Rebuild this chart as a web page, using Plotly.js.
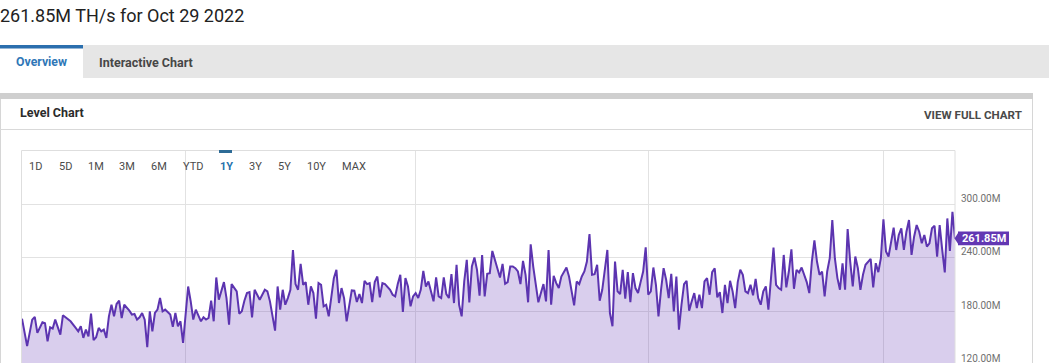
<!DOCTYPE html>
<html>
<head>
<meta charset="utf-8">
<script src="https://cdn.plot.ly/plotly-3.0.1.min.js"></script>
<style>
html,body{margin:0;padding:0;overflow:hidden;background:#fff;}
#chart{width:1049px;height:380px;}
</style>
</head>
<body>
<div id="chart"></div>
<script>
// ---------------- DATA ----------------
const startDate = '2021-10-29';
const endDate = '2022-10-29';
const headline = '261.85M TH/s for Oct 29 2022';
const tabLabels = ['Overview', 'Interactive Chart'];
const cardTitle = 'Level Chart';
const cardLink = 'VIEW FULL CHART';
const rangeButtons = ['1D','5D','1M','3M','6M','YTD','1Y','3Y','5Y','10Y','MAX'];
const activeRange = '1Y';
const yTickValues = [120, 180, 240, 300];
const yTickLabels = ['120.00M', '180.00M', '240.00M', '300.00M'];
const quarterStarts = ['2022-01-01', '2022-04-01', '2022-07-01', '2022-10-01'];
const latestValue = 261.85;
const latestLabel = '261.85M';

// days since startDate
const dayOffsets = [
0,2,4,5,6,8,9,10,11,12,13,15,16,18,19,21,22,23,24,25,26,27,28,29,30,31,32,33,34,35,36,37,38,39,40,42,43,44,45,46,47,48,49,50,51,52,53,54,
55,56,58,59,60,61,62,63,65,66,67,68,69,70,71,72,73,74,75,76,77,78,79,80,81,82,84,85,86,87,88,89,90,91,92,93,95,96,97,98,99,100,101,102,103,104,105,106,
107,108,109,110,111,112,113,114,115,116,117,118,119,120,121,122,123,124,125,126,127,128,129,130,131,132,133,134,135,136,137,138,139,140,141,142,143,144,145,146,147,148,149,150,151,152,153,154,155,156,157,158,159,160,
161,162,163,164,165,166,167,168,169,170,171,172,173,174,175,176,177,178,179,180,181,182,183,184,185,186,187,188,189,190,191,192,193,194,195,196,197,198,199,200,201,202,203,204,205,206,207,208,209,210,211,212,213,
214,215,216,217,218,219,220,221,222,223,224,225,226,227,228,229,230,231,232,233,234,235,236,237,238,239,240,241,242,243,244,245,246,247,248,249,250,251,252,253,254,255,256,257,258,259,260,261,262,263,264,265,
266,267,268,269,270,271,272,273,274,275,276,277,278,279,280,281,282,283,284,285,286,287,288,289,290,291,292,293,294,295,296,297,298,299,300,301,302,303,304,305,306,307,308,309,310,311,312,313,314,315,316,317,
318,319,320,321,322,323,324,325,326,327,328,329,330,331,332,333,334,335,336,337,338,339,340,341,342,343,344,345,346,347,348,349,350,351,352,353,354,355,356,357,358,359,360,361,362,363,364,365
];

// hash rate, millions of TH/s
const hashRateM = [
171.8,140.9,170.7,173.7,155.8,167.7,166.6,146.4,162.1,160.6,170.7,153.9,175.5,170.7,168.8,161.4,157.6,163.2,150.2,159.5,152.0,177.4,147.6,150.9,161.4,157.6,159.5,150.2,174.4,187.4,174.4,188.2,191.9,172.5,187.4,180.7,176.3,177.0,170.7,173.3,178.1,170.7,139.7,180.0,157.6,178.1,181.9,194.9,
180.0,181.9,176.3,162.5,178.1,163.2,168.8,144.6,207.9,191.2,170.7,181.9,174.4,168.8,173.3,170.7,172.5,191.9,168.8,218.0,193.0,202.4,212.8,194.9,165.1,210.6,202.4,177.4,180.0,191.9,200.5,201.6,173.3,204.2,198.6,193.0,204.2,202.4,191.2,176.3,158.4,207.9,181.9,204.2,187.4,194.9,204.2,248.9,
210.6,204.2,233.3,209.8,212.8,187.4,207.9,200.5,171.8,211.7,209.8,185.6,187.4,174.4,198.6,217.3,226.6,189.3,206.1,194.9,168.8,187.4,203.5,203.1,190.4,199.4,189.3,214.3,210.6,211.7,190.4,212.8,219.1,195.6,211.7,210.6,207.9,204.2,198.6,196.8,210.6,221.0,179.2,217.3,207.9,185.6,196.8,200.5,194.9,204.2,225.5,207.9,213.5,200.5,
191.2,218.0,196.8,194.9,218.0,199.4,194.9,221.7,189.3,232.2,187.4,174.4,213.5,237.8,190.1,230.3,240.4,226.6,197.5,243.3,196.8,222.1,222.9,247.8,237.8,225.5,218.0,233.3,210.9,212.8,230.3,230.3,228.4,224.7,210.6,236.6,221.0,190.1,255.3,230.3,209.8,190.1,200.5,210.6,191.2,248.9,187.4,219.9,211.7,206.1,219.1,224.0,229.2,
219.1,202.4,186.7,213.5,210.6,219.1,224.7,235.9,266.8,221.0,221.7,232.2,191.9,204.2,228.4,248.9,178.1,163.2,235.9,202.4,199.4,226.6,194.2,224.0,190.4,222.9,206.1,200.5,212.8,224.7,251.9,198.6,202.4,229.2,209.8,174.4,204.2,228.4,215.4,194.9,222.1,180.0,219.1,159.5,187.4,210.6,214.3,180.7,191.2,200.5,183.7,198.6,
183.7,213.5,217.3,198.6,224.0,228.4,195.6,201.6,178.1,209.8,189.3,214.3,202.4,183.7,212.8,226.6,221.0,202.4,200.5,209.8,197.9,216.5,194.9,187.4,202.4,207.9,181.9,217.3,251.5,209.8,206.1,204.2,243.3,206.8,224.7,249.7,205.3,226.6,223.6,229.2,221.0,212.8,200.5,235.9,259.7,235.9,221.0,224.7,196.8,224.7,239.6,282.5,
239.6,217.3,204.2,234.0,204.2,272.4,235.9,207.9,241.5,228.4,204.2,221.0,232.2,235.9,238.9,206.8,234.0,224.0,239.6,283.2,247.1,241.5,258.3,273.9,248.9,265.7,273.2,248.9,269.4,282.5,243.3,263.8,276.9,269.4,256.4,265.7,252.7,256.4,273.2,276.1,241.5,276.9,248.9,223.6,284.3,247.8,291.8,261.85
];

// ---------------- LAYOUT HELPERS ----------------
const W = 1049, H = 380;
const px = x => x / W;
const py = y => 1 - y / H;
const plotLeft = 22, plotRight = 955, plotTop = 151;
function offsetToDate(off) {
  const p = startDate.split('-').map(Number);
  const d = new Date(Date.UTC(p[0], p[1] - 1, p[2] + off));
  return d.toISOString().slice(0, 10);
}
const dates = dayOffsets.map(offsetToDate);

const FONT = 'Roboto, "Open Sans", sans-serif';
const purple = '#5c34b0';
const badgeColor = '#6237b3';

const trace = {
  type: 'scatter',
  mode: 'lines',
  x: dates,
  y: hashRateM,
  line: {color: purple, width: 2},
  fill: 'tozeroy',
  fillcolor: 'rgba(96,52,178,0.24)',
  hoverinfo: 'x+y'
};

function textAnn(t, x, y, size, color, opts) {
  return Object.assign({
    text: t, xref: 'paper', yref: 'paper', x: px(x - 2), y: py(y),
    xanchor: 'left', yanchor: 'middle', showarrow: false,
    font: {family: FONT, size: size, color: color}
  }, opts || {});
}

const annotations = [];
annotations.push(textAnn(headline, 0, 15, 18, '#222222'));
annotations.push(textAnn('<b>' + tabLabels[0] + '</b>', 16, 62, 12.3, '#2f77b7'));
annotations.push(textAnn('<b>' + tabLabels[1] + '</b>', 99, 62, 12.5, '#474747'));
annotations.push(textAnn('<b>' + cardTitle + '</b>', 20, 113, 12.5, '#2b2b2b'));
annotations.push(textAnn('<b>' + cardLink + '</b>', 1024, 115, 11.6, '#4a4a4a', {xanchor: 'right', x: px(1024)}));

const buttonX = [29, 58.5, 88, 119, 151, 182.5, 220, 248.5, 277.5, 306.5, 342];
rangeButtons.forEach((b, i) => {
  const active = b === activeRange;
  annotations.push(textAnn(active ? '<b>' + b + '</b>' : b, buttonX[i], 166, 11,
    active ? '#2872ad' : '#4a4a4a'));
});

// latest value badge text
annotations.push({
  text: '<b>' + latestLabel + '</b>', xref: 'paper', yref: 'y', x: px(plotRight), y: latestValue,
  xanchor: 'center', yanchor: 'middle', xshift: 29, showarrow: false,
  font: {family: FONT, size: 11, color: '#ffffff'}
});

const shapes = [
  // tab bar
  {type: 'rect', xref: 'paper', yref: 'paper', x0: 0, x1: 1, y0: py(78), y1: py(45), fillcolor: '#e6e6e6', line: {width: 0}, layer: 'below'},
  {type: 'rect', xref: 'paper', yref: 'paper', x0: 0, x1: px(83), y0: py(78), y1: py(48), fillcolor: '#ffffff', line: {width: 0}, layer: 'below'},
  {type: 'rect', xref: 'paper', yref: 'paper', x0: 0, x1: px(83), y0: py(48.5), y1: py(45), fillcolor: '#2b6fae', line: {width: 0}, layer: 'below'},
  // card
  {type: 'rect', xref: 'paper', yref: 'paper', x0: 0, x1: px(1033), y0: py(99), y1: py(93), fillcolor: '#cfcfcf', line: {width: 0}, layer: 'below'},
  {type: 'line', xref: 'paper', yref: 'paper', x0: px(0.5), x1: px(0.5), y0: py(99), y1: 0, line: {color: '#d6d6d6', width: 1}},
  {type: 'line', xref: 'paper', yref: 'paper', x0: px(1032.5), x1: px(1032.5), y0: py(99), y1: 0, line: {color: '#d6d6d6', width: 1}},
  {type: 'line', xref: 'paper', yref: 'paper', x0: 0, x1: px(1032.5), y0: py(129.5), y1: py(129.5), line: {color: '#d9d9d9', width: 1}},
  // plot box
  {type: 'rect', xref: 'paper', yref: 'paper', x0: px(plotLeft - 0.5), x1: px(plotRight), y0: 0, y1: py(plotTop - 0.5), line: {color: '#dedede', width: 1}, fillcolor: 'rgba(0,0,0,0)'},
  // active range indicator
  {type: 'rect', xref: 'paper', yref: 'paper', x0: px(219), x1: px(232), y0: py(153), y1: py(150), fillcolor: '#2d6b96', line: {width: 0}},
  // latest value badge
  {type: 'rect', xref: 'paper', xsizemode: 'pixel', xanchor: px(plotRight), x0: 3, x1: 54,
   yref: 'y', ysizemode: 'pixel', yanchor: latestValue, y0: -6.8, y1: 6.8,
   fillcolor: badgeColor, line: {width: 0}},
  {type: 'path', xref: 'paper', xsizemode: 'pixel', xanchor: px(plotRight),
   yref: 'y', ysizemode: 'pixel', yanchor: latestValue,
   path: 'M-0.5,0 L4,6.8 L4,-6.8 Z', fillcolor: badgeColor, line: {width: 0}}
];

const layout = {
  width: W, height: H,
  margin: {l: 0, r: 0, t: 0, b: 0, pad: 0},
  paper_bgcolor: '#ffffff',
  plot_bgcolor: '#ffffff',
  showlegend: false,
  font: {family: FONT},
  xaxis: {
    type: 'date', domain: [px(plotLeft), px(plotRight)], range: [startDate, endDate],
    tickmode: 'array', tickvals: quarterStarts, showticklabels: false, ticks: '',
    showgrid: true, gridcolor: '#e2e2e2', gridwidth: 1, zeroline: false, showline: false,
    fixedrange: true
  },
  yaxis: {
    domain: [0, py(plotTop)], range: [102.9, 360], side: 'right',
    tickmode: 'array', tickvals: yTickValues, ticktext: yTickLabels,
    showgrid: true, gridcolor: '#e2e2e2', gridwidth: 1, zeroline: false, showline: false,
    ticks: '', ticklabelstandoff: 5, ticklabelshift: -6,
    tickfont: {family: FONT, size: 10, color: '#707070'},
    fixedrange: true
  },
  annotations: annotations,
  shapes: shapes
};

Plotly.newPlot('chart', [trace], layout, {displayModeBar: false, responsive: false});
</script>
</body>
</html>
